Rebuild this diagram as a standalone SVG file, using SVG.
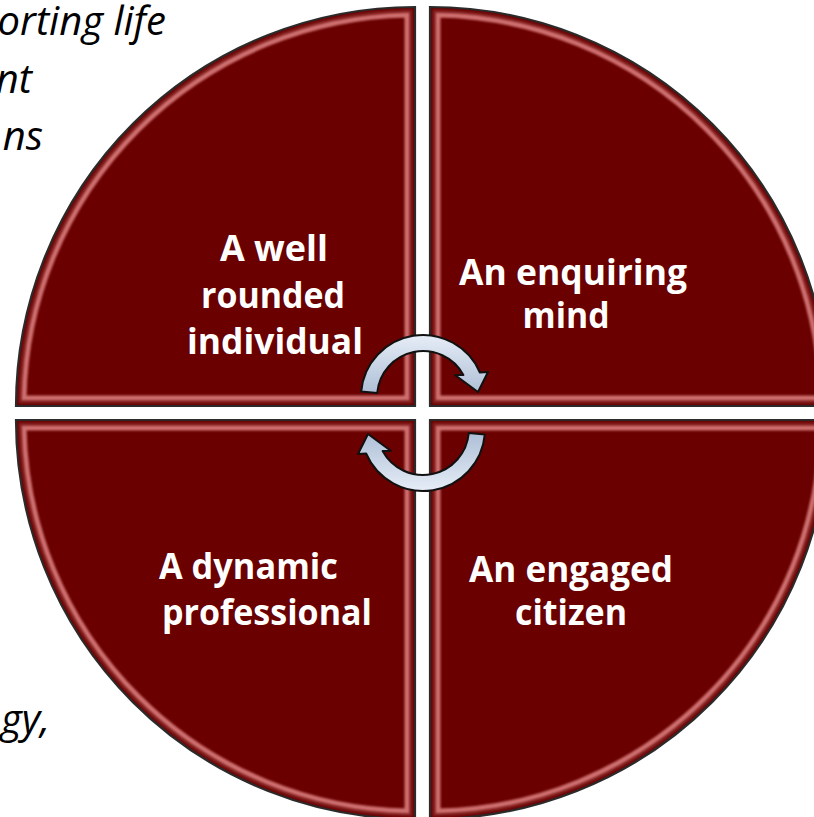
<svg xmlns="http://www.w3.org/2000/svg" width="814" height="817" viewBox="0 0 814 817">
<style>
.quad{fill:#6a0000;stroke:#2b2b2b;stroke-width:2.2}
.bev{fill:none;stroke:#d97c7c;stroke-width:5;opacity:0.9;filter:url(#blur)}
.bev2{fill:none;stroke:#8a2a2a;stroke-width:3;opacity:0.7;filter:url(#blur)}
.lbl{font-family:"Open Sans","Liberation Sans",sans-serif;font-weight:700;font-size:35px;fill:#ffffff;text-anchor:middle}
.side{font-family:"Open Sans","Liberation Sans",sans-serif;font-style:italic;font-size:40px;fill:#000000;text-anchor:end}
.arrow{fill:url(#ag);stroke:#111111;stroke-width:2;stroke-linejoin:round}
</style>
<defs>
<filter id="blur" x="-5%" y="-5%" width="110%" height="110%"><feGaussianBlur stdDeviation="1.2"/></filter>
<linearGradient id="ag" x1="0" y1="0" x2="0" y2="1">
<stop offset="0" stop-color="#e6edf7"/>
<stop offset="1" stop-color="#aebfd6"/>
</linearGradient>
</defs>
<rect width="814" height="817" fill="#ffffff"/>
<g id="side-text">
<text class="side" x="166" y="35">orting life</text>
<text class="side" x="32" y="93">nt</text>
<text class="side" x="43" y="150">ns</text>
<text class="side" x="50" y="733">gy,</text>
</g>
<g id="node-well-rounded">
<path class="quad" d="M415,406 L415,7 A399 399 0 0 0 16,406 Z"/>
<path class="bev2" d="M411,402 L411,11 A395 395 0 0 0 20,402 Z"/>
<path class="bev" d="M407,398 L407,15 A391 391 0 0 0 24,398 Z"/>
<text class="lbl" x="274" y="261" textLength="108" lengthAdjust="spacingAndGlyphs">A well</text>
<text class="lbl" x="273" y="308" textLength="144" lengthAdjust="spacingAndGlyphs">rounded</text>
<text class="lbl" x="275" y="354" textLength="176" lengthAdjust="spacingAndGlyphs">individual</text>
</g>
<g id="node-enquiring">
<path class="quad" d="M430,406 L430,7 A399 399 0 0 1 829,406 Z"/>
<path class="bev2" d="M434,402 L434,11 A395 395 0 0 1 825,402 Z"/>
<path class="bev" d="M438,398 L438,15 A391 391 0 0 1 821,398 Z"/>
<text class="lbl" x="573" y="285" textLength="228" lengthAdjust="spacingAndGlyphs">An enquiring</text>
<text class="lbl" x="566" y="328" textLength="87" lengthAdjust="spacingAndGlyphs">mind</text>
</g>
<g id="node-dynamic">
<path class="quad" d="M415,420 L415,819 A399 399 0 0 1 16,420 Z"/>
<path class="bev2" d="M411,424 L411,815 A395 395 0 0 1 20,424 Z"/>
<path class="bev" d="M407,428 L407,811 A391 391 0 0 1 24,428 Z"/>
<text class="lbl" x="248.5" y="579" textLength="179" lengthAdjust="spacingAndGlyphs">A dynamic</text>
<text class="lbl" x="267" y="625" textLength="210" lengthAdjust="spacingAndGlyphs">professional</text>
</g>
<g id="node-engaged">
<path class="quad" d="M430,420 L430,819 A399 399 0 0 0 829,420 Z"/>
<path class="bev2" d="M434,424 L434,815 A395 395 0 0 0 825,424 Z"/>
<path class="bev" d="M438,428 L438,811 A391 391 0 0 0 821,428 Z"/>
<text class="lbl" x="571" y="582" textLength="204" lengthAdjust="spacingAndGlyphs">An engaged</text>
<text class="lbl" x="571" y="625" textLength="112" lengthAdjust="spacingAndGlyphs">citizen</text>
</g>
<g id="connectors">
<path class="arrow" d="M361.2,391.6 A62 62 0 0 1 479.9,372.5 L488,372 L478,392 L455,375 L463.4,375 A46 46 0 0 0 377.2,393 Z"/>
<path class="arrow" transform="rotate(180 423 413)" d="M361.2,391.6 A62 62 0 0 1 479.9,372.5 L488,372 L478,392 L455,375 L463.4,375 A46 46 0 0 0 377.2,393 Z"/>
</g>
</svg>
